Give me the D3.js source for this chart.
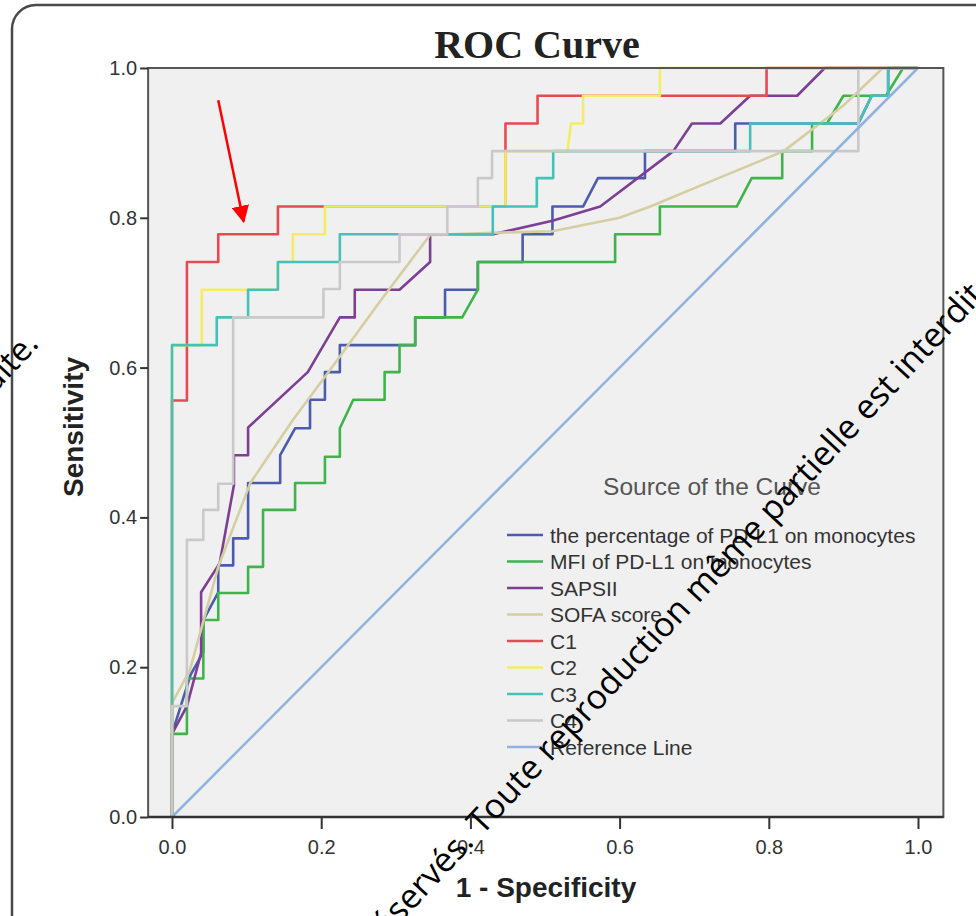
<!DOCTYPE html>
<html>
<head>
<meta charset="utf-8">
<script src="https://cdn.jsdelivr.net/npm/d3@7"></script>
<style>
    body { margin: 0; background: #fff; }
    svg { display: block; }
    .tick-label { font-family: "Liberation Sans", Arial, sans-serif; font-size: 20px; fill: #333; }
    .axis-title { font-family: "Liberation Sans", Arial, sans-serif; font-size: 28px; font-weight: bold; fill: #222; }
    .legend-text { font-family: "Liberation Sans", Arial, sans-serif; font-size: 21px; fill: #333; }
</style>
</head>
<body>
<div id="chart"></div>
<script>
// curves: [1 - specificity, sensitivity]
const percentPDL1 = [[0,0],[0,0.111],[0.025,0.19],[0.042,0.22],[0.042,0.263],[0.062,0.3],[0.062,0.336],[0.082,0.336],[0.082,0.372],[0.102,0.372],[0.102,0.446],[0.145,0.446],[0.145,0.483],[0.165,0.519],[0.185,0.519],[0.185,0.557],[0.205,0.557],[0.205,0.594],[0.225,0.594],[0.225,0.63],[0.326,0.63],[0.326,0.667],[0.366,0.667],[0.366,0.704],[0.41,0.704],[0.41,0.741],[0.47,0.741],[0.47,0.778],[0.51,0.778],[0.51,0.815],[0.551,0.815],[0.571,0.853],[0.634,0.853],[0.634,0.889],[0.755,0.889],[0.755,0.926],[0.92,0.926],[0.938,0.963],[0.96,0.963],[0.96,1],[1,1]];
const mfiPDL1 = [[0,0],[0,0.111],[0.02,0.111],[0.02,0.148],[0.02,0.185],[0.042,0.185],[0.042,0.263],[0.062,0.263],[0.062,0.299],[0.102,0.299],[0.102,0.334],[0.122,0.334],[0.122,0.41],[0.165,0.41],[0.165,0.446],[0.205,0.446],[0.205,0.481],[0.225,0.481],[0.225,0.519],[0.243,0.557],[0.285,0.557],[0.285,0.594],[0.305,0.594],[0.305,0.63],[0.326,0.63],[0.326,0.667],[0.389,0.667],[0.41,0.704],[0.41,0.741],[0.594,0.741],[0.594,0.778],[0.654,0.778],[0.654,0.815],[0.757,0.815],[0.777,0.853],[0.818,0.853],[0.818,0.889],[0.858,0.889],[0.858,0.926],[0.878,0.926],[0.9,0.963],[0.957,0.963],[0.98,1],[1,1]];
const sapsII = [[0,0],[0,0.111],[0.02,0.148],[0.039,0.219],[0.039,0.3],[0.064,0.339],[0.083,0.443],[0.083,0.483],[0.102,0.483],[0.102,0.52],[0.182,0.594],[0.225,0.667],[0.245,0.667],[0.245,0.704],[0.305,0.704],[0.346,0.741],[0.346,0.778],[0.43,0.778],[0.51,0.796],[0.574,0.815],[0.672,0.889],[0.697,0.926],[0.735,0.926],[0.775,0.963],[0.838,0.963],[0.875,1],[1,1]];
const sofaScore = [[0,0],[0,0.152],[0.024,0.196],[0.062,0.334],[0.105,0.446],[0.162,0.53],[0.212,0.597],[0.28,0.69],[0.346,0.777],[0.43,0.78],[0.51,0.782],[0.6,0.8],[0.641,0.815],[0.735,0.854],[0.82,0.889],[0.9,0.95],[0.953,1],[1,1]];
const c1 = [[0,0],[0,0.556],[0.02,0.556],[0.02,0.741],[0.062,0.741],[0.062,0.778],[0.142,0.778],[0.142,0.815],[0.447,0.815],[0.447,0.926],[0.49,0.926],[0.49,0.963],[0.797,0.963],[0.797,1],[1,1]];
const c2 = [[0,0],[0,0.63],[0.04,0.63],[0.04,0.704],[0.142,0.704],[0.142,0.741],[0.162,0.741],[0.162,0.778],[0.205,0.778],[0.205,0.815],[0.447,0.815],[0.447,0.889],[0.53,0.889],[0.535,0.926],[0.551,0.926],[0.551,0.963],[0.654,0.963],[0.654,1],[1,1]];
const c3 = [[0,0],[0,0.63],[0.06,0.63],[0.06,0.667],[0.102,0.667],[0.102,0.704],[0.142,0.704],[0.142,0.741],[0.225,0.741],[0.225,0.778],[0.43,0.778],[0.43,0.815],[0.489,0.815],[0.489,0.853],[0.511,0.853],[0.511,0.889],[0.775,0.889],[0.775,0.926],[0.92,0.926],[0.938,0.963],[0.96,0.963],[0.96,1],[1,1]];
const c4 = [[0,0],[0,0.148],[0.02,0.148],[0.02,0.37],[0.042,0.37],[0.042,0.41],[0.062,0.41],[0.062,0.445],[0.082,0.445],[0.082,0.667],[0.203,0.667],[0.203,0.705],[0.225,0.705],[0.225,0.741],[0.305,0.741],[0.305,0.778],[0.369,0.778],[0.369,0.815],[0.41,0.815],[0.41,0.853],[0.429,0.853],[0.429,0.889],[0.92,0.889],[0.92,1],[1,1]];
const referenceLine = [[0,0],[1,1]];

const seriesNames = ["the percentage of PD-L1 on monocytes", "MFI of PD-L1 on monocytes", "SAPSII", "SOFA score", "C1", "C2", "C3", "C4", "Reference Line"];
const seriesData = [percentPDL1, mfiPDL1, sapsII, sofaScore, c1, c2, c3, c4, referenceLine];
const seriesColors = ["#4b5cab", "#3db54b", "#7c3f93", "#d5cea2", "#e84a53", "#f4ec66", "#45c1b7", "#c9c9c9", "#8fb3dc"];

const tickValues = [0, 0.2, 0.4, 0.6, 0.8, 1.0];

// red annotation arrow, in data units
const arrowFrom = [0.062, 0.957];
const arrowTo = [0.096, 0.795];

const width = 976, height = 916;

const svg = d3.select("#chart").append("svg")
    .attr("width", width)
    .attr("height", height);

// outer rounded frame of the screenshot
svg.append("rect")
    .attr("x", 12).attr("y", 5)
    .attr("width", 1100).attr("height", 1100)
    .attr("rx", 24)
    .attr("fill", "none")
    .attr("stroke", "#4a4a4a")
    .attr("stroke-width", 2.5);

const xScale = d3.scaleLinear().domain([0, 1]).range([172, 918]);
const yScale = d3.scaleLinear().domain([0, 1]).range([817, 68]);

const plotLeft = xScale(-0.032), plotRight = xScale(1.034);

svg.append("rect")
    .attr("x", plotLeft).attr("y", yScale(1))
    .attr("width", plotRight - plotLeft)
    .attr("height", yScale(0) - yScale(1))
    .attr("fill", "#f0f0f0");

const line = d3.line()
    .x(d => xScale(d[0]))
    .y(d => yScale(d[1]));

svg.selectAll(".curve")
    .data(seriesData)
    .enter().append("path")
    .attr("class", "curve")
    .attr("d", line)
    .attr("fill", "none")
    .attr("stroke", (d, i) => seriesColors[i])
    .attr("stroke-width", (d, i) => i === 8 ? 2.5 : 2.6)
    .attr("stroke-linejoin", "round");

// plot frame
svg.append("rect")
    .attr("x", plotLeft).attr("y", yScale(1))
    .attr("width", plotRight - plotLeft)
    .attr("height", yScale(0) - yScale(1))
    .attr("fill", "none")
    .attr("stroke", "#555")
    .attr("stroke-width", 2);

// axes
const xAxis = svg.append("g")
    .attr("transform", `translate(0,${yScale(0)})`)
    .call(d3.axisBottom(xScale).tickValues(tickValues).tickFormat(d3.format(".1f")).tickSize(12).tickSizeOuter(0));
xAxis.select(".domain").remove();
xAxis.selectAll("line").attr("stroke", "#333").attr("stroke-width", 2);
xAxis.selectAll("text").attr("class", "tick-label").attr("dy", "1.1em").attr("font-size", null).attr("font-family", null);

const yAxis = svg.append("g")
    .attr("transform", `translate(${plotLeft},0)`)
    .call(d3.axisLeft(yScale).tickValues(tickValues).tickFormat(d3.format(".1f")).tickSize(8).tickSizeOuter(0));
yAxis.select(".domain").remove();
yAxis.selectAll("line").attr("stroke", "#333").attr("stroke-width", 2);
yAxis.selectAll("text").attr("class", "tick-label").attr("x", -11).attr("font-size", null).attr("font-family", null);

svg.append("line")
    .attr("x1", plotLeft).attr("x2", plotRight)
    .attr("y1", yScale(0)).attr("y2", yScale(0))
    .attr("stroke", "#333").attr("stroke-width", 2.5);

// titles
svg.append("text")
    .attr("x", 537).attr("y", 58)
    .attr("text-anchor", "middle")
    .style("font-family", "'Liberation Serif', 'Times New Roman', serif")
    .style("font-weight", "bold")
    .style("font-size", "40px")
    .style("fill", "#222")
    .text("ROC Curve");

svg.append("text")
    .attr("class", "axis-title")
    .attr("x", 546).attr("y", 897)
    .attr("text-anchor", "middle")
    .text("1 - Specificity");

svg.append("text")
    .attr("class", "axis-title")
    .attr("transform", "translate(83,427) rotate(-90)")
    .attr("text-anchor", "middle")
    .text("Sensitivity");

// legend
const legend = svg.append("g").attr("transform", "translate(507,535)");

legend.append("text")
    .attr("x", 205).attr("y", -40)
    .attr("text-anchor", "middle")
    .style("font-family", "'Liberation Sans', Arial, sans-serif")
    .style("font-size", "24.5px")
    .style("fill", "#555")
    .text("Source of the Curve");

const rows = legend.selectAll(".legend-row")
    .data(seriesNames)
    .enter().append("g")
    .attr("class", "legend-row")
    .attr("transform", (d, i) => `translate(0,${i * 26.5})`);

rows.append("line")
    .attr("x1", 0).attr("x2", 36)
    .attr("stroke", (d, i) => seriesColors[i])
    .attr("stroke-width", 2.5);

rows.append("text")
    .attr("class", "legend-text")
    .attr("x", 43)
    .attr("dy", "0.36em")
    .text(d => d);

// red arrow annotation
svg.append("defs").append("marker")
    .attr("id", "arrowhead")
    .attr("viewBox", "0 0 10 10")
    .attr("refX", 9).attr("refY", 5)
    .attr("markerWidth", 7).attr("markerHeight", 7)
    .attr("markerUnits", "strokeWidth")
    .attr("orient", "auto")
    .append("path")
    .attr("d", "M0,0 L10,5 L0,10 Z")
    .attr("fill", "#f00");

svg.append("line")
    .attr("x1", xScale(arrowFrom[0])).attr("y1", yScale(arrowFrom[1]))
    .attr("x2", xScale(arrowTo[0])).attr("y2", yScale(arrowTo[1]))
    .attr("stroke", "#f00")
    .attr("stroke-width", 2.5)
    .attr("marker-end", "url(#arrowhead)");

// watermark over the picture
const mark = svg.append("g")
    .attr("transform", "translate(482,836) rotate(-47)")
    .style("font-family", "'Open Sans', sans-serif")
    .style("font-size", "34px")
    .style("fill", "#000");
mark.append("text").attr("x", -10).attr("text-anchor", "end").text("Tous droits réservés.");
mark.append("text").attr("x", 0).text("Toute reproduction même partielle est interdite.");

svg.append("text")
    .attr("transform", "translate(40,345) rotate(-47)")
    .attr("text-anchor", "end")
    .style("font-family", "'Open Sans', sans-serif")
    .style("font-size", "33px")
    .style("fill", "#000")
    .text("est interdite.");
</script>
</body>
</html>
